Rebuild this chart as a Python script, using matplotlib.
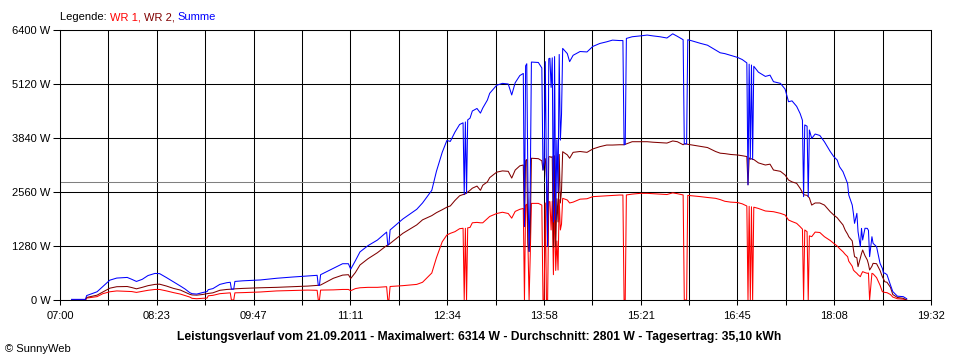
import matplotlib
matplotlib.use("Agg")
import matplotlib.pyplot as plt
import numpy as np

# Leistungsverlauf 21.09.2011 (SunnyWeb), Werte in W
times = ["07:10", "07:22", "07:23", "07:32", "07:37", "07:43", "07:49", "07:58",
         "08:02", "08:06", "08:11", "08:16", "08:22", "08:26", "08:32", "08:38",
         "08:44", "08:48", "08:52", "08:54", "08:58", "09:03", "09:07", "09:08",
         "09:12", "09:18", "09:24", "09:27", "09:28", "09:30", "09:31", "09:38",
         "09:53", "10:07", "10:21", "10:34", "10:42", "10:43", "10:44", "10:45",
         "10:56", "11:04", "11:09", "11:11", "11:15", "11:19", "11:26", "11:34",
         "11:42", "11:43", "11:44", "11:45", "11:56", "12:08", "12:13", "12:21",
         "12:25", "12:30", "12:34", "12:37", "12:41", "12:45", "12:48", "12:49",
         "12:50", "12:51", "12:52", "12:54", "12:56", "13:00", "13:03", "13:05",
         "13:09", "13:11", "13:17", "13:22", "13:27", "13:30", "13:33", "13:37",
         "13:40", "13:41", "13:42", "13:43", "13:44", "13:45", "13:46", "13:47",
         "13:53", "13:56", "13:57", "13:58", "13:59", "14:00", "14:01", "14:02",
         "14:03", "14:04", "14:05", "14:06", "14:07", "14:08", "14:09", "14:10",
         "14:11", "14:12", "14:13", "14:14", "14:18", "14:20", "14:23", "14:29",
         "14:35", "14:40", "14:46", "14:52", "14:57", "15:03", "15:06", "15:07",
         "15:08", "15:09", "15:14", "15:21", "15:27", "15:32", "15:38", "15:44",
         "15:49", "15:53", "15:58", "15:59", "16:01", "16:02", "16:06", "16:13",
         "16:19", "16:26", "16:30", "16:34", "16:39", "16:45", "16:49", "16:53",
         "16:54", "16:55", "16:56", "16:57", "16:58", "16:59", "17:03", "17:09",
         "17:13", "17:16", "17:22", "17:26", "17:29", "17:32", "17:36", "17:39",
         "17:41", "17:42", "17:43", "17:45", "17:46", "17:47", "17:49", "17:52",
         "17:56", "18:00", "18:05", "18:08", "18:11", "18:13", "18:16", "18:18",
         "18:20", "18:21", "18:24", "18:25", "18:26", "18:28", "18:29", "18:31",
         "18:32", "18:33", "18:35", "18:37", "18:38", "18:39", "18:41", "18:42",
         "18:45", "18:48", "18:50", "18:51", "18:52", "18:54", "18:57", "18:59",
         "19:03", "19:08", "19:11"]

wr1 = [0, 0, 45, 80, 150, 195, 215, 205,
       200, 180, 205, 230, 250, 250, 215, 175,
       140, 105, 70, 40, 30, 40, 45, 100,
       110, 150, 165, 170, 0, 0, 170, 175,
       190, 215, 225, 235, 230, 0, 0, 235,
       240, 250, 250, 220, 270, 290, 300, 300,
       315, 0, 0, 320, 340, 370, 420, 640,
       1000, 1380, 1540, 1580, 1620, 1690, 1700, 0,
       1700, 0, 1710, 1720, 1830, 1840, 1830, 1830,
       1930, 1980, 2050, 2080, 2050, 1940, 2100, 2150,
       2170, 0, 2250, 2270, 1350, 0, 1070, 2290,
       2290, 2250, 0, 0, 2300, 0, 0, 2330,
       2330, 1660, 2340, 600, 2350, 700, 1400, 710,
       2380, 1660, 1800, 2410, 2370, 2300, 2320, 2390,
       2400, 2450, 2460, 2470, 2480, 2488, 2488, 0,
       0, 2490, 2510, 2528, 2528, 2520, 2510, 2500,
       2540, 2520, 2490, 0, 0, 2480, 2470, 2450,
       2430, 2410, 2380, 2340, 2320, 2310, 2280, 2228,
       0, 2220, 0, 2210, 0, 2200, 2170, 2110,
       2100, 2093, 2054, 2015, 1896, 1860, 1817, 1738,
       1680, 0, 1660, 1620, 0, 1520, 1501, 1610,
       1600, 1500, 1410, 1343, 1280, 1220, 1145, 1080,
       1027, 920, 800, 711, 680, 632, 600, 553,
       620, 672, 650, 632, 640, 0, 632, 620,
       530, 350, 197, 190, 180, 174, 130, 70,
       30, 20, 0]

wr2 = [0, 0, 60, 115, 190, 280, 315, 320,
       295, 265, 300, 340, 370, 375, 330, 275,
       235, 185, 135, 120, 115, 130, 150, 155,
       170, 230, 250, 255, 255, 260, 265, 275,
       290, 300, 315, 330, 345, 345, 350, 355,
       515, 590, 600, 510, 650, 830, 980, 1120,
       1290, 1300, 1320, 1340, 1580, 1780, 1900, 2000,
       2070, 2140, 2200, 2230, 2360, 2470, 2500, 2500,
       2520, 2530, 2560, 2600, 2650, 2700, 2600, 2720,
       2800, 2900, 3030, 3060, 3050, 2890, 3080, 3180,
       3200, 1750, 3300, 3330, 1340, 1150, 1600, 3360,
       3350, 3300, 3080, 3250, 3350, 2900, 1300, 3390,
       3400, 3380, 3400, 1250, 3420, 1260, 2400, 1850,
       3450, 2300, 2600, 3515, 3440, 3360, 3500, 3520,
       3500, 3580, 3634, 3673, 3673, 3680, 3680, 3680,
       3690, 3700, 3752, 3752, 3752, 3740, 3730, 3720,
       3770, 3752, 3680, 3700, 3700, 3690, 3673, 3640,
       3614, 3520, 3480, 3470, 3450, 3437, 3420, 3400,
       2730, 3370, 3340, 3350, 3330, 3330, 3250, 3200,
       3220, 3081, 3050, 2963, 2844, 2800, 2765, 2647,
       2550, 2500, 2490, 2480, 2450, 2420, 2250, 2300,
       2300, 2250, 2093, 2015, 1950, 1880, 1780, 1650,
       1560, 1500, 1400, 1200, 1027, 1000, 790, 1000,
       1100, 1185, 1050, 948, 850, 711, 800, 869,
       860, 700, 553, 500, 434, 420, 300, 130,
       60, 40, 0]

summe = [15, 15, 105, 195, 320, 470, 520, 535,
         490, 440, 490, 580, 630, 625, 530, 430,
         330, 260, 175, 150, 140, 175, 200, 245,
         270, 370, 410, 420, 255, 260, 440, 455,
         475, 515, 545, 570, 585, 345, 350, 600,
         750, 860, 860, 730, 930, 1140, 1290, 1420,
         1610, 1300, 1320, 1660, 1920, 2150, 2300, 2600,
         3050, 3500, 3780, 3760, 3980, 4160, 4200, 2500,
         4220, 2530, 4270, 4310, 4480, 4540, 4430, 4550,
         4740, 4900, 5090, 5135, 5120, 4860, 5150, 5320,
         5370, 1740, 5550, 5600, 2690, 1150, 2670, 5640,
         5630, 5500, 3080, 3250, 5650, 2900, 1270, 5720,
         5730, 5040, 5740, 1850, 5770, 1900, 3800, 2560,
         5820, 3790, 4400, 5964, 5840, 5650, 5800, 5890,
         5880, 6010, 6080, 6120, 6160, 6150, 6150, 3680,
         3690, 6200, 6240, 6260, 6280, 6260, 6240, 6210,
         6310, 6250, 6170, 3700, 3700, 6170, 6140, 6083,
         6040, 5925, 5860, 5840, 5800, 5750, 5700, 5620,
         2730, 5590, 3340, 5570, 3330, 5540, 5400, 5300,
         5330, 5175, 5135, 5000, 4700, 4720, 4590, 4420,
         4260, 2450, 4150, 4120, 2449, 4030, 3830, 3934,
         3900, 3750, 3520, 3400, 3318, 3160, 3041, 2900,
         2760, 2488, 2250, 2054, 1817, 2054, 1619, 1264,
         1698, 1422, 1700, 1698, 1650, 1027, 1500, 1343,
         1264, 869, 750, 632, 640, 600, 355, 200,
         90, 80, 30]

tick_labels = ["07:00", "08:23", "09:47", "11:11", "12:34",
               "13:58", "15:21", "16:45", "18:08", "19:32"]
y_ticks = [0, 1280, 2560, 3840, 5120, 6400]
durchschnitt = 2801
titel = ("Leistungsverlauf vom 21.09.2011 - Maximalwert: 6314 W - "
         "Durchschnitt: 2801 W - Tagesertrag: 35,10 kWh")

assert len(times) == len(wr1) == len(wr2) == len(summe)


def minutes(s):
    h, m = s.split(":")
    return int(h) * 60 + int(m)


t = [minutes(s) for s in times]
t0 = minutes(tick_labels[0])
t1 = minutes(tick_labels[-1])

plt.rcParams['font.family'] = ['Liberation Sans', 'DejaVu Sans']

fig = plt.figure(figsize=(9.6, 3.6), dpi=100)
ax = fig.add_axes([60 / 960, 60 / 360, 871 / 960, 270 / 360])

ax.axhline(durchschnitt, color="#808080", lw=0.75, zorder=1.6)
ax.plot(t, wr1, color="#ff0000", lw=0.75)
ax.plot(t, wr2, color="#800000", lw=0.75)
ax.plot(t, summe, color="#0000ff", lw=0.75)

ax.set_xlim(t0, t1)
ax.set_ylim(y_ticks[0], y_ticks[-1])
ax.set_xticks(np.linspace(t0, t1, len(tick_labels)))
ax.set_xticklabels(tick_labels)
ax.set_xticks(np.linspace(t0, t1, 2 * len(tick_labels) - 1), minor=True)
ax.set_yticks(y_ticks)
ax.set_yticklabels([f"{v} W" for v in y_ticks])

ax.grid(which="both", axis="x", color="black", lw=0.75)
ax.grid(which="major", axis="y", color="black", lw=0.75)
ax.tick_params(axis="x", which="both", length=3.6, width=0.75, pad=4, labelsize=8)
ax.tick_params(axis="y", length=5, width=0.75, pad=2, labelsize=8)
for sp in ax.spines.values():
    sp.set_linewidth(0.75)

# Legende oben links, farbige Teile hintereinander
prev = fig.text(60 / 960, 1 - 22 / 360, "Legende: ", fontsize=8, va="bottom")
for txt, col in [("WR 1, ", "#ff0000"), ("WR 2, ", "#800000"), ("Summe", "#0000ff")]:
    prev = ax.annotate(txt, xy=(1, 0), xycoords=prev, va="bottom", ha="left",
                       color=col, fontsize=8)

fig.text(479 / 960, 1 - 337 / 360, titel, ha="center", va="center",
         fontsize=8.7, fontweight="bold")
fig.text(5 / 960, 1 - 349 / 360, "© SunnyWeb", ha="left", va="center", fontsize=8)

fig.savefig("out.png", dpi=100)
